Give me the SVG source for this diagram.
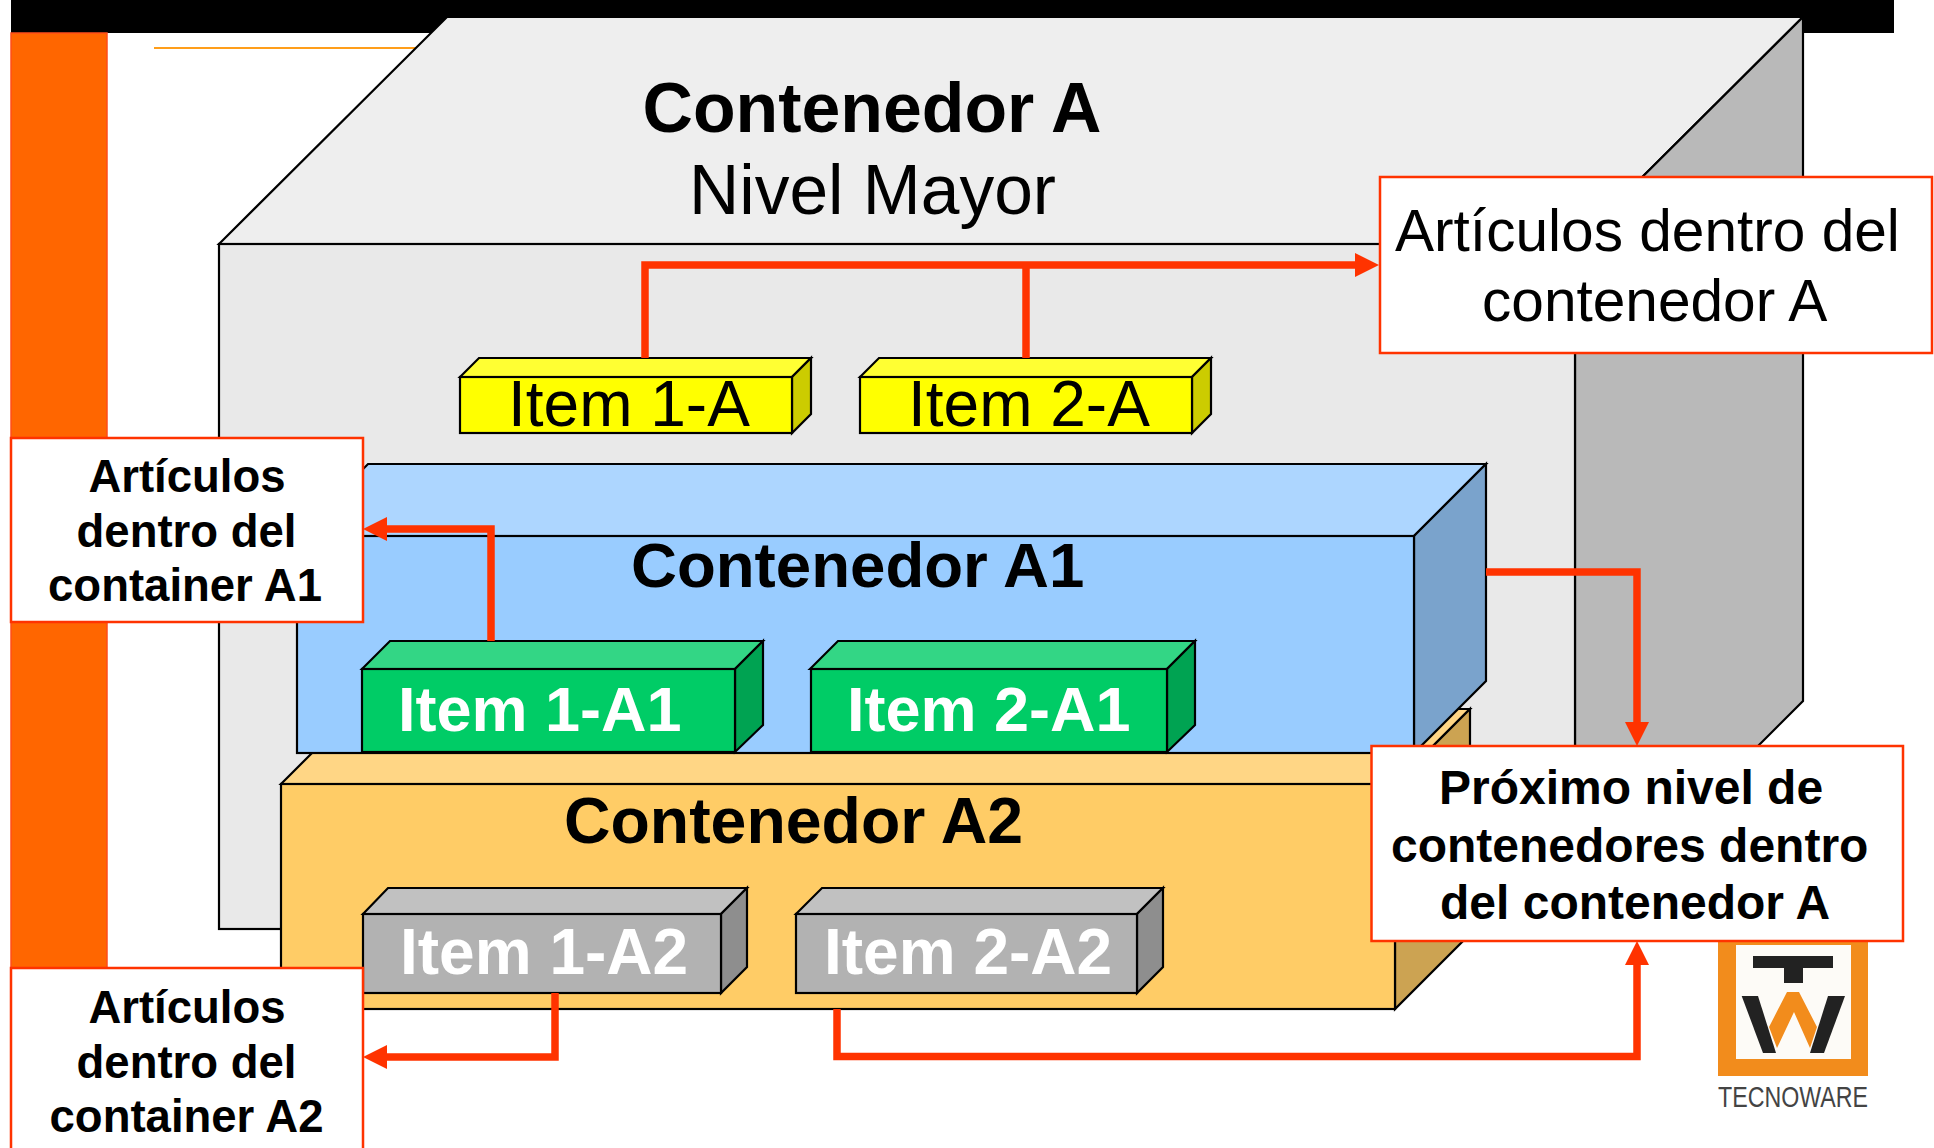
<svg xmlns="http://www.w3.org/2000/svg" width="1934" height="1148" viewBox="0 0 1934 1148">
<style>
text{font-family:"Liberation Sans",Arial,sans-serif;fill:#000}
.b{font-weight:700}
.f63{font-size:63px}
.f64{font-size:64px}
.f45{font-size:45.500px;text-anchor:middle}
.f48{font-size:48px}
.f58{font-size:58.600px}
.w{fill:#fff}
.e path,.e polygon,.e rect{stroke:#000;stroke-width:2.2;stroke-linejoin:miter}
.lbl{fill:#fff;stroke:#FF3300;stroke-width:2.5}
.k{fill:none;stroke:#FF3300;stroke-width:7.5;stroke-linejoin:miter;stroke-linecap:butt}
.yf{fill:#FFFF00}.yt{fill:#FFFF33}.ys{fill:#CCCC00}
.gf{fill:#00CC66}.gt{fill:#33D685}.gs{fill:#00A352}
.nf{fill:#B2B2B2}.nt{fill:#C1C1C1}.ns{fill:#8E8E8E}
</style>
<defs>
<marker id="ah" markerUnits="userSpaceOnUse" markerWidth="26" markerHeight="26" refX="2" refY="13" orient="auto"><polygon points="0,1 24,13 0,25" fill="#FF3300"/></marker>
</defs>
<rect width="1934" height="1148" fill="#fff"/>
<g id="background">
<rect x="11" y="0" width="1883" height="33" fill="#000"/>
<rect x="11" y="33" width="96" height="940" fill="#FF6600" stroke="#FF4D1A" stroke-width="1.5"/>
<line x1="154" y1="48" x2="430" y2="48" stroke="#FF9E1A" stroke-width="2"/>
</g>
<g id="contenedor-a" class="e">
<polygon points="219,244 447,17 1803,17 1575,244" fill="#EEEEEE"/>
<polygon points="1575,244 1803,17 1803,701 1575,929" fill="#B9B9B9"/>
<rect x="219" y="244" width="1356" height="685" fill="#E9E9E9"/>
<text x="872" y="132" text-anchor="middle" class="b" font-size="69.800">Contenedor A</text>
<text x="872.500" y="214" text-anchor="middle" font-size="69.500">Nivel Mayor</text>
</g>
<g id="item-1-a" class="e">
<polygon points="460,377 479,358 811,358 792,377" class="yt"/>
<polygon points="792,377 811,358 811,414 792,433" class="ys"/>
<rect x="460" y="377" width="332" height="56" class="yf"/>
<text x="508" y="426" class="f64">Item 1-A</text>
</g>
<g id="item-2-a" class="e">
<polygon points="860,377 879,358 1211,358 1192,377" class="yt"/>
<polygon points="1192,377 1211,358 1211,414 1192,433" class="ys"/>
<rect x="860" y="377" width="332" height="56" class="yf"/>
<text x="908" y="426" class="f64">Item 2-A</text>
</g>
<g id="contenedor-a2" class="e">
<polygon points="281,784 356,709 1470,709 1395,784" fill="#FFD685"/>
<polygon points="1395,784 1470,709 1470,934 1395,1009" fill="#CCA352"/>
<rect x="281" y="784" width="1114" height="225" fill="#FFCC66"/>
<text x="564" y="843" class="b" font-size="64.400">Contenedor A2</text>
</g>
<g id="contenedor-a1" class="e">
<polygon points="297,536 368,464 1486,464 1414,536" fill="#ADD6FF"/>
<polygon points="1414,536 1486,464 1486,681 1414,753" fill="#7AA3CC"/>
<rect x="297" y="536" width="1117" height="217" fill="#99CCFF"/>
<text x="631" y="587" class="b" font-size="63.600">Contenedor A1</text>
</g>
<g id="item-1-a1" class="e">
<polygon points="362,669 390,641 763,641 735,669" class="gt"/>
<polygon points="735,669 763,641 763,725 735,752" class="gs"/>
<rect x="362" y="669" width="373" height="83" class="gf"/>
<text x="398" y="731" class="b f63 w">Item 1-A1</text>
</g>
<g id="item-2-a1" class="e">
<polygon points="810,669 838,641 1195,641 1167,669" class="gt"/>
<polygon points="1167,669 1195,641 1195,725 1167,752" class="gs"/>
<rect x="811" y="669" width="356" height="83" class="gf"/>
<text x="847" y="731" class="b f63 w">Item 2-A1</text>
</g>
<g id="item-1-a2" class="e">
<polygon points="363,914 388,888 747,888 721,914" class="nt"/>
<polygon points="721,914 747,888 747,967 721,993" class="ns"/>
<rect x="363" y="914" width="358" height="79" class="nf"/>
<text x="400" y="974" class="b f64 w">Item 1-A2</text>
</g>
<g id="item-2-a2" class="e">
<polygon points="796,914 822,888 1163,888 1137,914" class="nt"/>
<polygon points="1137,914 1163,888 1163,967 1137,993" class="ns"/>
<rect x="796" y="914" width="341" height="79" class="nf"/>
<text x="824" y="974" class="b f64 w">Item 2-A2</text>
</g>
<g id="logo">
<rect x="1718" y="941" width="150" height="135" fill="#F28C1C"/>
<rect x="1736" y="945" width="115" height="114" fill="#FDFBF7"/>
<rect x="1753" y="956" width="80" height="12" fill="#222"/>
<rect x="1784" y="968" width="19" height="15" fill="#222"/>
<polygon points="1741.700,996 1758,996 1776,1053 1763,1053" fill="#222"/>
<polygon points="1828,996 1845,996 1824,1053 1810,1053" fill="#222"/>
<polygon points="1787,992 1799,992 1817,1027 1810,1048 1794,1012 1777,1048 1769,1027" fill="#F28C1C"/>
<text x="1718" y="1107" font-size="29" textLength="150" lengthAdjust="spacingAndGlyphs" style="fill:#444">TECNOWARE</text>
</g>
<g id="label-a">
<rect x="1380" y="177" width="552" height="176" class="lbl"/>
<text x="1395" y="251" class="f58">Artículos dentro del</text>
<text x="1482" y="321" class="f58">contenedor A</text>
</g>
<g id="label-a1">
<rect x="11" y="438" width="352" height="184" class="lbl"/>
<text x="187" y="492" class="b f45">Artículos</text>
<text x="186.500" y="547" class="b f45">dentro del</text>
<text x="185" y="601" class="b f45">container A1</text>
</g>
<g id="label-a2">
<rect x="11" y="968" width="352" height="200" class="lbl"/>
<text x="187" y="1023" class="b f45">Artículos</text>
<text x="186.500" y="1078" class="b f45">dentro del</text>
<text x="186.500" y="1132" class="b f45">container A2</text>
</g>
<g id="label-proximo">
<rect x="1371.500" y="746" width="531.500" height="195" class="lbl"/>
<text x="1439" y="804" class="b f48">Próximo nivel de</text>
<text x="1391" y="862" class="b f48">contenedores dentro</text>
<text x="1440" y="919" class="b f48">del contenedor A</text>
</g>
<g id="connectors">
<path class="k" d="M645 358V265H1357" marker-end="url(#ah)"/>
<path class="k" d="M1026 358V265"/>
<path class="k" d="M491 641V529H385" marker-end="url(#ah)"/>
<path class="k" d="M1486 572H1637V724" marker-end="url(#ah)"/>
<path class="k" d="M555 993V1057H385" marker-end="url(#ah)"/>
<path class="k" d="M837 1009V1056.500H1637V963" marker-end="url(#ah)"/>
</g>
</svg>
